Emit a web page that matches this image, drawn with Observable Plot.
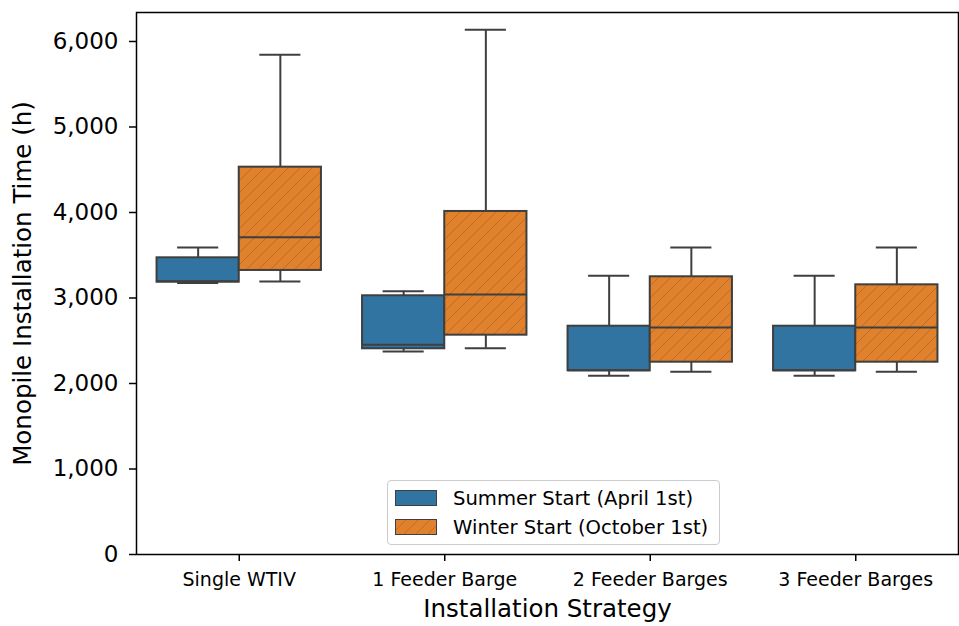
<!DOCTYPE html>
<html>
<head>
<meta charset="utf-8">
<script src="https://cdn.jsdelivr.net/npm/d3@7"></script>
<script src="https://cdn.jsdelivr.net/npm/@observablehq/plot@0.6"></script>
<style>
  html, body { margin: 0; padding: 0; background: #fff; }
  #wrap { position: relative; width: 959px; height: 626px; font-family: "DejaVu Sans", sans-serif; }
  #legend { position: absolute; left: 387px; top: 480px; width: 331px; height: 63px;
    border: 1px solid #cccccc; border-radius: 4px; background: rgba(255,255,255,0.8); }
  .row { position: absolute; left: 7px; height: 20px; display: flex; align-items: center; }
  .row span { margin-left: 16px; font-size: 19.6px; color: #000; white-space: nowrap; }
</style>
</head>
<body>
<div id="wrap"></div>
<script>
const categories = ["Single WTIV", "1 Feeder Barge", "2 Feeder Barges", "3 Feeder Barges"];
const seriesNames = ["Summer Start (April 1st)", "Winter Start (October 1st)"];
const summerMin    = [3175, 2375, 2090, 2090];
const summerQ1     = [3185, 2406, 2148, 2148];
const summerMedian = [3195, 2452, 2155, 2155];
const summerQ3     = [3470, 3026, 2670, 2670];
const summerMax    = [3590, 3080, 3259, 3259];
const winterMin    = [3193, 2413, 2137, 2137];
const winterQ1     = [3322, 2565, 2249, 2249];
const winterMedian = [3711, 3041, 2655, 2655];
const winterQ3     = [4530, 4012, 3248, 3154];
const winterMax    = [5844, 6137, 3591, 3591];
const yTicks = [0, 1000, 2000, 3000, 4000, 5000, 6000];

const blue = "#3274a1", orange = "#e1812c", edge = "#3f3f3f";

const rows = [];
categories.forEach((c, i) => {
  rows.push({i, s: 0, min: summerMin[i], q1: summerQ1[i], med: summerMedian[i], q3: summerQ3[i], max: summerMax[i]});
  rows.push({i, s: 1, min: winterMin[i], q1: winterQ1[i], med: winterMedian[i], q3: winterQ3[i], max: winterMax[i]});
});
const W = 0.4; // box width in category units
const x1 = d => d.i - W + d.s * W;
const x2 = d => d.i + d.s * W;
const xc = d => d.i - W / 2 + d.s * W;

const summer = rows.filter(d => d.s === 0);
const winter = rows.filter(d => d.s === 1);

const chart = Plot.plot({
  width: 959, height: 626,
  marginLeft: 136, marginRight: 1, marginTop: 12, marginBottom: 72,
  style: { fontFamily: "DejaVu Sans", background: "white", color: "black" },
  x: { domain: [-0.5, 3.5] },
  y: { domain: [0, 6339] },
  marks: [
    Plot.ruleX(rows, { x: xc, y1: "q3", y2: "max", stroke: edge, strokeWidth: 2 }),
    Plot.ruleX(rows, { x: xc, y1: "min", y2: "q1", stroke: edge, strokeWidth: 2 }),
    Plot.ruleY(rows, { y: "max", x1: d => xc(d) - W / 4, x2: d => xc(d) + W / 4, stroke: edge, strokeWidth: 2 }),
    Plot.ruleY(rows, { y: "min", x1: d => xc(d) - W / 4, x2: d => xc(d) + W / 4, stroke: edge, strokeWidth: 2 }),
    Plot.rect(summer, { x1, x2, y1: "q1", y2: "q3", fill: blue, stroke: edge, strokeWidth: 2 }),
    Plot.rect(winter, { x1, x2, y1: "q1", y2: "q3", fill: "url(#hatchOrange)", stroke: edge, strokeWidth: 2 }),
    Plot.ruleY(rows, { y: "med", x1, x2, stroke: edge, strokeWidth: 2 }),
    Plot.frame({ stroke: "black", strokeWidth: 1.5 }),
    Plot.axisY({ ticks: yTicks, tickFormat: d3.format(","), tickSize: 7, tickPadding: 11, fontSize: 23, label: null, strokeWidth: 1.5 }),
    Plot.axisX({ ticks: [0, 1, 2, 3], tickFormat: i => categories[i], tickSize: 7, tickPadding: 11, fontSize: 19, label: null, strokeWidth: 1.5 }),
    Plot.text(["Monopile Installation Time (h)"], { text: d => d, frameAnchor: "left", textAnchor: "middle", dx: -113, rotate: -90, fontSize: 24.5, fill: "black" }),
    Plot.text(["Installation Strategy"], { text: d => d, frameAnchor: "bottom", dy: 62, fontSize: 24.5, fill: "black" })
  ]
});

function addPattern(svg, id) {
  const ns = "http://www.w3.org/2000/svg";
  const defs = document.createElementNS(ns, "defs");
  defs.innerHTML = `<pattern id="${id}" patternUnits="userSpaceOnUse" width="12" height="12">
    <rect width="12" height="12" fill="${orange}"/>
    <path d="M-3,3 L3,-3 M0,12 L12,0 M9,15 L15,9" stroke="rgba(63,63,63,0.28)" stroke-width="1"/>
  </pattern>`;
  svg.insertBefore(defs, svg.firstChild);
}
addPattern(chart, "hatchOrange");

const wrap = document.getElementById("wrap");
wrap.appendChild(chart);

const legend = document.createElement("div");
legend.id = "legend";
const fills = [blue, "url(#hatchLegend)"];
seriesNames.forEach((name, k) => {
  const row = document.createElement("div");
  row.className = "row";
  row.style.top = (7 + k * 29.3) + "px";
  const ns = "http://www.w3.org/2000/svg";
  const sw = document.createElementNS(ns, "svg");
  sw.setAttribute("width", 42); sw.setAttribute("height", 16);
  if (k === 1) addPattern(sw, "hatchLegend");
  const r = document.createElementNS(ns, "rect");
  r.setAttribute("x", 0.5); r.setAttribute("y", 0.5);
  r.setAttribute("width", 41); r.setAttribute("height", 15);
  r.setAttribute("fill", fills[k]); r.setAttribute("stroke", edge); r.setAttribute("stroke-width", 1);
  sw.appendChild(r);
  row.appendChild(sw);
  const t = document.createElement("span");
  t.textContent = name;
  row.appendChild(t);
  legend.appendChild(row);
});
wrap.appendChild(legend);
</script>
</body>
</html>
